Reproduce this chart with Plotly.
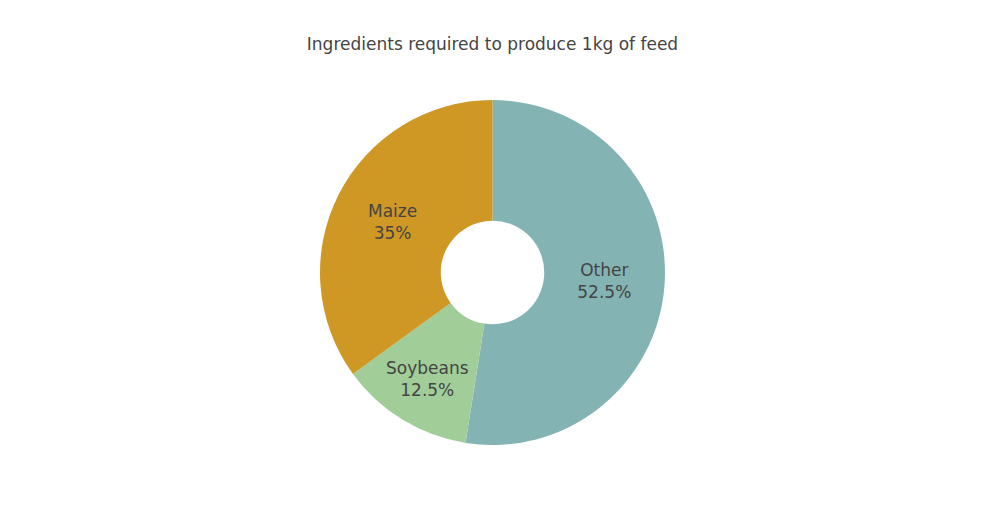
import plotly.graph_objects as go

labels = ["Other", "Soybeans", "Maize"]
values = [52.5, 12.5, 35]
colors = ["#84B3B3", "#A1CD99", "#CF9824"]

fig = go.Figure(go.Pie(
    labels=labels,
    values=values,
    hole=0.3,
    sort=False,
    direction="clockwise",
    rotation=0,
    marker=dict(colors=colors),
    textinfo="label+percent",
    textfont=dict(size=17, color="#444444"),
    showlegend=False,
))
fig.update_layout(
    width=985, height=525,
    title=dict(text="Ingredients required to produce 1kg of feed", x=0.5, xanchor="center",
               font=dict(size=17, color="#444444")),
    font=dict(family="DejaVu Sans, Verdana, sans-serif", color="#444444"),
    paper_bgcolor="white",
)
fig.write_html("out.html")
